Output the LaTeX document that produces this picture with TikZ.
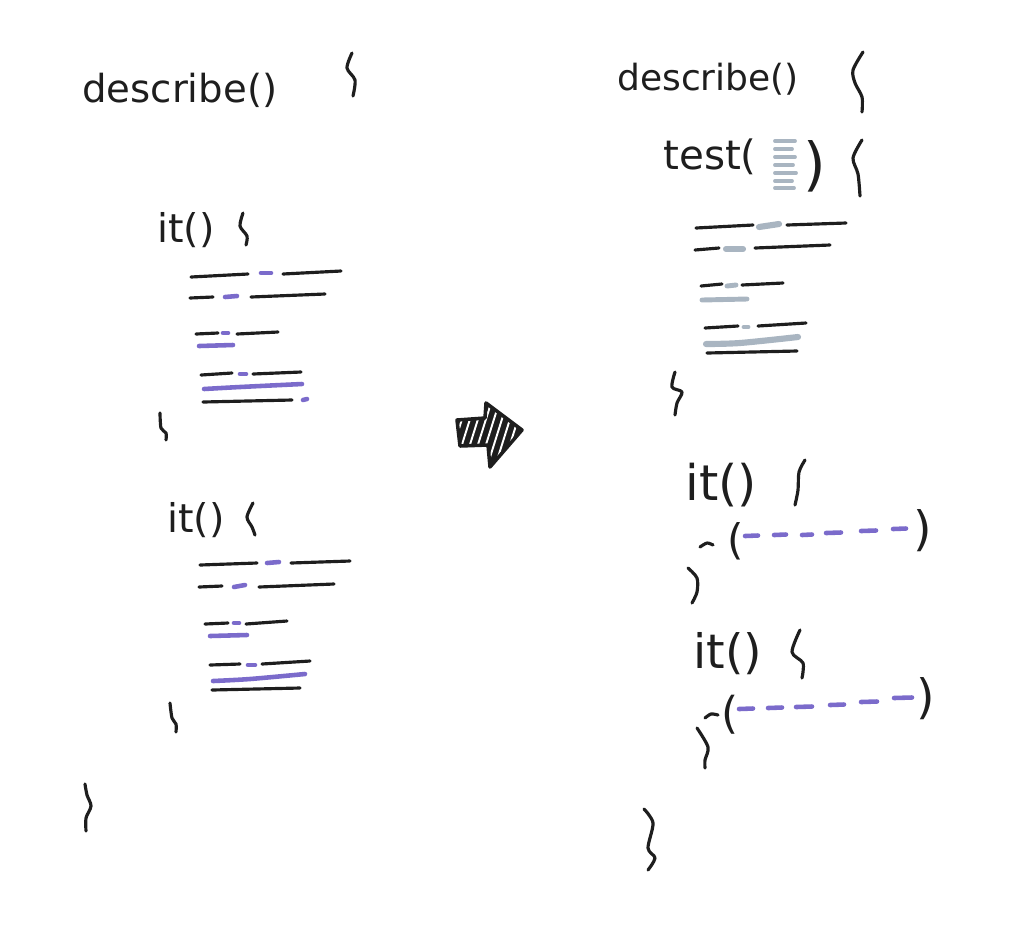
\documentclass[tikz,border=0pt]{standalone}
\usepackage{fontspec}
\newfontfamily\handfont{DejaVu Sans}
\definecolor{inkblack}{HTML}{1E1E1E}
\definecolor{codeviolet}{HTML}{7B6BCB}
\definecolor{stubgray}{HTML}{A9B5C1}
\tikzset{
  ink/.style={draw=inkblack, line width=1.8pt, line cap=round, line join=round},
  violetmark/.style={draw=codeviolet, line width=2.6pt, line cap=round},
  graymark/.style={draw=stubgray, line width=2.8pt, line cap=round},
  handtext/.style={text=inkblack, inner sep=0pt, anchor=base west,
    font=\handfont\fontsize{#1}{#1}\selectfont},
  handtext/.default=22,
  paren/.style={text=inkblack, inner sep=0pt, anchor=center,
    font=\handfont\fontsize{#1}{#1}\selectfont},
}
\begin{document}
\begin{tikzpicture}[x=0.02cm,y=-0.02cm]
  \useasboundingbox (0,0) rectangle (1020,941);

  % left side: describe with two its
  \node[handtext=22] (descL) at (82,102) {describe()};
  \draw [ink] plot [smooth] coordinates {(352,53) (347,68) (355,80) (353,96)};

  \node[handtext=22.5] (itL1) at (157,242) {it()};
  \draw [ink] plot [smooth] coordinates {(243,213) (240,226) (247,236) (246,245)};
  \draw [ink] (191,277) -- (248,274);
  \draw [violetmark] (261,273) -- (271,273);
  \draw [ink] (283,274) -- (341,271);
  \draw [ink] (190,298) -- (213,297);
  \draw [violetmark] (225,297) -- (237,296);
  \draw [ink] (251,297) -- (325,294);
  \draw [ink] (196,334) -- (218,333);
  \draw [violetmark] (223,333) -- (228,333);
  \draw [ink] (237,334) -- (278,332);
  \draw [violetmark] (199,346) -- (233,345);
  \draw [ink] (201,375) -- (232,373);
  \draw [violetmark] (240,374) -- (246,374);
  \draw [ink] (253,374) -- (301,372);
  \draw [violetmark] plot [smooth] coordinates {(204,389) (240,387) (302,384)};
  \draw [ink] (203,402) -- (292,400);
  \draw [violetmark] (303,400) -- (307,399);
  \draw [ink] plot [smooth] coordinates {(160,413) (161,428) (166,433) (166,440)};

  \node[handtext=22.5] (itL2) at (167,532) {it()};
  \draw [ink] plot [smooth] coordinates {(253,503) (247,517) (252,527) (255,535)};
  \draw [ink] (200,565) -- (257,563);
  \draw [violetmark] (267,563) -- (279,562);
  \draw [ink] (291,563) -- (350,561);
  \draw [ink] (199,587) -- (222,586);
  \draw [violetmark] (234,587) -- (245,585);
  \draw [ink] (259,587) -- (334,584);
  \draw [ink] (205,624) -- (228,623);
  \draw [violetmark] (234,623) -- (239,623);
  \draw [ink] (246,624) -- (287,621);
  \draw [violetmark] (210,636) -- (247,635);
  \draw [ink] (210,665) -- (240,664);
  \draw [violetmark] (248,665) -- (255,665);
  \draw [ink] (262,664) -- (310,661);
  \draw [violetmark] plot [smooth] coordinates {(213,681) (250,679) (305,674)};
  \draw [ink] (212,690) -- (300,688);
  \draw [ink] plot [smooth] coordinates {(170,703) (172,718) (176,724) (176,732)};

  \draw [ink] plot [smooth] coordinates {(85,784) (87,795) (91,806) (86,818) (86,831)};

  % hatched arrow
  \begin{scope}
    \clip (457,420) -- (485,418) -- (486,403) -- (522,430) -- (490,467) -- (488,445) -- (460,446) -- cycle;
    \fill[inkblack] (440,395) rectangle (530,475);
    \foreach \s in {0,8,...,96}
      \draw[white, line width=1.1pt] (430+\s,470) -- (452+\s,400);
  \end{scope}
  \draw [ink, line width=2pt] (457,420) -- (485,418) -- (486,403) -- (522,430) -- (490,467) -- (488,445) -- (460,446) -- cycle;

  % right side: describe with test and two its
  \node[handtext=20.5] (descR) at (617,90) {describe()};
  \draw [ink] plot [smooth] coordinates {(863,52) (853,70) (855,83) (862,97) (862,112)};

  \node[handtext=23] (testR) at (663,169) {test(};
  \foreach \y/\w in {141/20,149/17,157/20,165/18,173/21,181/17,188/19}
    \draw [stubgray, line width=2.2pt, line cap=round] (775,\y) -- ++(\w,0);
  \node[paren=33] (testclose) at (815,166) {)};
  \draw [ink] plot [smooth] coordinates {(862,140) (853,158) (858,174) (860,196)};

  \draw [ink] (696,228) -- (753,225);
  \draw [graymark, line width=3.5pt] (759,227) -- (779,224);
  \draw [ink] (787,225) -- (846,223);
  \draw [ink] (695,250) -- (719,248);
  \draw [graymark, line width=3.5pt] (726,249) -- (743,249);
  \draw [ink] (755,248) -- (830,245);
  \draw [ink] (701,286) -- (722,284);
  \draw [graymark] (727,286) -- (736,285);
  \draw [ink] (742,285) -- (783,283);
  \draw [graymark] (702,300) -- (747,299);
  \draw [ink] (705,328) -- (738,326);
  \draw [graymark] (744,327) -- (748,327);
  \draw [ink] (758,326) -- (806,323);
  \draw [graymark, line width=3.5pt] plot [smooth] coordinates {(706,344) (740,343) (798,337)};
  \draw [ink] (707,353) -- (797,351);
  \draw [ink] plot [smooth] coordinates {(675,372) (672,387) (682,392) (677,403) (675,415)};

  \node[handtext=28] (itR1) at (685,500) {it()};
  \draw [ink] plot [smooth] coordinates {(805,460) (799,472) (798,490) (795,505)};
  \draw [ink] plot [smooth] coordinates {(700,547) (707,543) (713,545)};
  \node[paren=24] (openR1) at (736,541) {(};
  \foreach \xa/\xb/\y in {745/758/536,774/786/535,802/812/535,826/841/533,861/876/531,893/906/529}
    \draw [violetmark] (\xa,\y) -- (\xb,\y-0.5);
  \node[paren=27] (closeR1) at (923,531) {)};
  \draw [ink] plot [smooth] coordinates {(688,568) (697,578) (697,592) (692,603)};

  \node[handtext=27] (itR2) at (693,668) {it()};
  \draw [ink] plot [smooth] coordinates {(800,630) (792,652) (803,663) (802,678)};
  \draw [ink] plot [smooth] coordinates {(705,718) (711,714) (718,715)};
  \node[paren=25] (openR2) at (730,715) {(};
  \foreach \xa/\xb/\y in {739/753/709,768/782/708,796/812/707,830/844/705,861/877/702,894/912/698}
    \draw [violetmark] (\xa,\y) -- (\xb,\y-0.5);
  \node[paren=27] (closeR2) at (926,699) {)};
  \draw [ink] plot [smooth] coordinates {(697,728) (708,747) (705,760) (705,768)};

  \draw [ink] plot [smooth] coordinates {(644,809) (653,823) (648,848) (655,858) (648,870)};
\end{tikzpicture}
\end{document}
